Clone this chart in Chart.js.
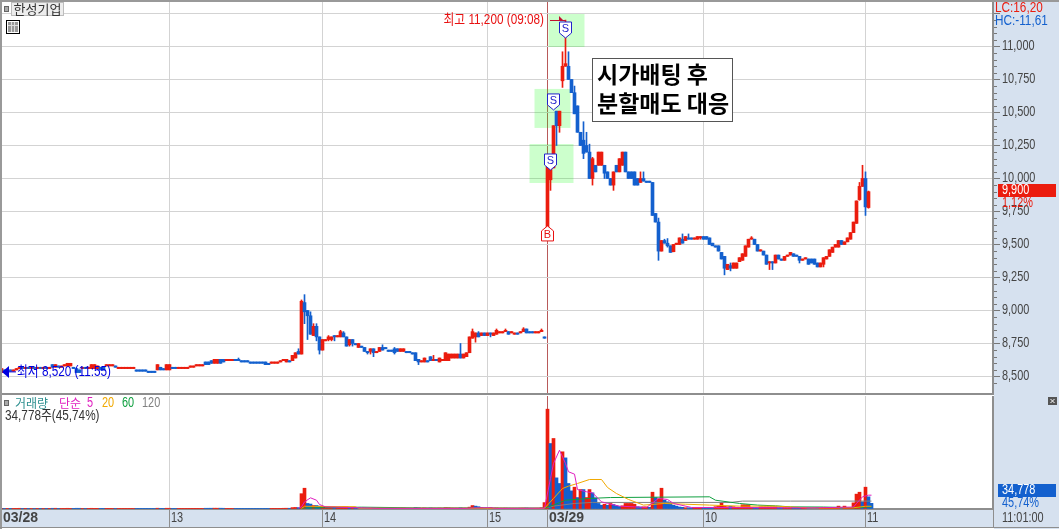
<!DOCTYPE html>
<html lang="ko">
<head>
    <meta charset="UTF-8">
    <title>한성기업</title>
    <script src="https://cdn.jsdelivr.net/npm/chart.js"></script>
    <style>
        html, body { margin: 0; padding: 0; background: #fff; overflow: hidden; }
        canvas { position: absolute; left: 0; display: block; }
        #priceChart { top: 0; }
        #volumeChart { top: 396px; }
    </style>
</head>
<body>
    <canvas id="priceChart" width="1059" height="396"></canvas>
    <canvas id="volumeChart" width="1059" height="133"></canvas>
    <script>
        // One minute candles
        const opens = [
            8530,8550,8540,8550,8540,8550,8560,8570,8560,8570,
            8560,8570,8560,8570,8560,8570,8560,8590,8570,8580,
            8570,8580,8580,8580,8570,8560,8550,8560,8570,8560,
            8560,8560,8560,8570,8570,8580,8580,8580,8580,8560,
            8560,8560,8560,8560,8560,8550,8550,8550,8550,8540,
            8540,8540,8550,8570,8560,8550,8550,8570,8570,8560,
            8560,8560,8560,8570,8570,8580,8580,8580,8610,8610,
            8620,8600,8600,8630,8630,8620,8620,8620,8630,8630,
            8620,8620,8620,8610,8610,8610,8610,8610,8610,8600,
            8600,8600,8600,8610,8620,8610,8620,8620,8640,8690,
            8670,9060,9000,8960,8810,8880,8800,8700,8770,8780,
            8780,8810,8800,8800,8830,8800,8740,8780,8750,8720,
            8730,8720,8690,8690,8710,8680,8690,8720,8720,8700,
            8700,8710,8710,8690,8690,8690,8690,8680,8680,8630,
            8610,8610,8620,8650,8620,8630,8610,8620,8620,8620,
            8640,8640,8640,8670,8640,8650,8680,8790,8800,8830,
            8810,8830,8810,8830,8810,8820,8830,8830,8840,8840,
            8830,8820,8830,8830,8840,8860,8840,8840,8830,8830,
            8840,8800,9630,9990,10080,10510,10400,10740,10850,10850,
            10750,10650,10550,10350,10290,10250,10200,10000,10100,10100,
            10100,10100,10050,10000,9950,10100,10050,10100,10200,10050,
            10050,10050,10000,9970,10000,9980,9980,9970,9735,9670,
            9450,9530,9510,9490,9445,9500,9500,9540,9530,9550,
            9550,9540,9540,9550,9560,9560,9550,9510,9490,9490,
            9440,9410,9310,9340,9320,9320,9370,9380,9410,9480,
            9540,9540,9500,9450,9450,9420,9360,9370,9360,9420,
            9390,9380,9410,9420,9430,9420,9410,9380,9390,9390,
            9390,9390,9360,9330,9350,9390,9410,9440,9480,9480,
            9530,9500,9520,9540,9590,9660,9840,9940,10000,9780
        ];
        const closes = [
            8560,8540,8550,8540,8550,8560,8570,8560,8570,8560,
            8570,8560,8570,8560,8570,8560,8570,8570,8590,8570,
            8580,8590,8600,8600,8560,8530,8530,8570,8560,8570,
            8590,8590,8580,8550,8550,8590,8590,8590,8570,8570,
            8570,8570,8570,8570,8570,8540,8540,8540,8540,8530,
            8530,8530,8590,8550,8550,8590,8590,8560,8560,8570,
            8570,8570,8570,8580,8580,8590,8590,8590,8590,8590,
            8600,8630,8630,8600,8610,8630,8630,8630,8620,8620,
            8610,8610,8610,8600,8600,8600,8600,8600,8590,8590,
            8610,8610,8610,8620,8630,8630,8610,8660,8680,8670,
            9070,8990,8960,8820,8880,8800,8700,8780,8780,8800,
            8800,8800,8810,8840,8800,8730,8780,8750,8740,8750,
            8720,8690,8680,8710,8680,8690,8720,8700,8710,8690,
            8690,8680,8690,8710,8710,8680,8680,8670,8620,8610,
            8620,8640,8610,8620,8630,8620,8640,8630,8680,8670,
            8670,8670,8670,8640,8670,8680,8800,8840,8830,8800,
            8830,8810,8830,8820,8830,8850,8840,8840,8850,8820,
            8840,8830,8820,8840,8860,8830,8830,8830,8840,8840,
            8850,8790,10090,10070,10400,10400,10510,10850,10870,10750,
            10650,10490,10350,10250,10190,10200,10000,10150,10050,10200,
            10200,10040,10000,9950,10050,10050,10150,10200,10050,10000,
            10000,9950,9950,10000,9980,9970,9970,9720,9670,9450,
            9530,9510,9490,9440,9500,9510,9550,9510,9560,9540,
            9540,9550,9560,9560,9540,9540,9500,9490,9480,9450,
            9390,9320,9350,9320,9360,9360,9400,9430,9490,9540,
            9550,9500,9450,9460,9420,9350,9370,9360,9420,9390,
            9380,9410,9420,9440,9410,9410,9380,9390,9400,9350,
            9360,9350,9330,9360,9400,9410,9460,9480,9500,9530,
            9500,9520,9550,9590,9670,9830,9940,10000,9785,9900
        ];
        const highs = [
            8560,8550,8550,8550,8550,8560,8570,8570,8570,8570,
            8570,8570,8570,8570,8570,8570,8570,8590,8590,8580,
            8580,8590,8600,8600,8570,8560,8550,8570,8570,8570,
            8590,8590,8580,8570,8570,8590,8590,8590,8580,8570,
            8570,8570,8570,8570,8570,8550,8550,8550,8550,8540,
            8540,8540,8590,8570,8560,8590,8590,8570,8570,8570,
            8570,8570,8570,8580,8580,8590,8590,8590,8610,8610,
            8620,8630,8630,8630,8630,8630,8630,8630,8630,8640,
            8620,8620,8620,8610,8610,8610,8610,8610,8610,8600,
            8610,8610,8610,8620,8630,8630,8620,8660,8680,8710,
            9080,9120,9000,8990,8900,8900,8800,8780,8780,8810,
            8800,8810,8810,8850,8840,8800,8780,8780,8750,8750,
            8730,8720,8690,8710,8710,8690,8720,8740,8720,8700,
            8700,8720,8710,8710,8710,8690,8690,8680,8680,8630,
            8620,8640,8620,8650,8660,8630,8640,8630,8680,8670,
            8670,8670,8670,8750,8670,8680,8800,8860,8830,8840,
            8830,8830,8830,8830,8830,8860,8840,8840,8860,8840,
            8840,8830,8830,8840,8870,8860,8840,8840,8840,8840,
            8860,8800,10150,10100,10400,10510,10510,10960,11200,10960,
            10750,10700,10550,10350,10430,10350,10260,10160,10100,10200,
            10200,10100,10050,10000,10050,10100,10150,10200,10200,10050,
            10050,10050,10000,10050,10050,9980,9980,9970,9735,9700,
            9530,9540,9545,9490,9500,9510,9550,9580,9560,9580,
            9550,9550,9560,9560,9560,9560,9550,9510,9490,9490,
            9440,9410,9350,9360,9360,9360,9400,9430,9490,9540,
            9560,9540,9500,9460,9450,9420,9370,9370,9420,9420,
            9390,9410,9420,9440,9430,9420,9410,9390,9400,9390,
            9390,9390,9360,9360,9400,9410,9460,9480,9500,9530,
            9530,9520,9550,9590,9670,9830,9970,10100,10050,9905
        ];
        const lows = [
            8530,8540,8540,8540,8540,8550,8560,8560,8560,8560,
            8560,8560,8560,8560,8560,8560,8560,8570,8570,8570,
            8570,8580,8580,8580,8560,8530,8530,8560,8560,8560,
            8560,8560,8560,8550,8550,8580,8580,8580,8570,8560,
            8560,8560,8560,8560,8560,8540,8540,8540,8540,8530,
            8530,8530,8550,8550,8550,8550,8550,8560,8560,8560,
            8560,8560,8560,8570,8570,8580,8580,8580,8590,8590,
            8600,8600,8600,8600,8610,8620,8620,8620,8620,8620,
            8610,8610,8610,8600,8600,8600,8600,8600,8590,8590,
            8600,8600,8600,8610,8620,8610,8610,8620,8640,8670,
            8670,8900,8780,8820,8810,8770,8670,8700,8770,8770,
            8770,8770,8800,8800,8800,8730,8730,8730,8740,8720,
            8720,8690,8670,8670,8650,8680,8690,8700,8710,8690,
            8690,8670,8690,8690,8690,8680,8680,8670,8620,8590,
            8610,8610,8610,8620,8620,8620,8610,8620,8620,8620,
            8640,8640,8640,8640,8640,8650,8680,8790,8760,8800,
            8810,8810,8810,8800,8810,8820,8830,8830,8840,8820,
            8830,8820,8820,8830,8840,8830,8830,8830,8830,8830,
            8840,8790,9630,9910,10080,10250,10350,10690,10850,10750,
            10650,10490,10350,10250,10150,10200,10000,9950,10050,10100,
            10100,10000,10000,9950,9910,10050,10050,10100,10050,10000,
            10000,9950,9950,9970,9980,9970,9970,9720,9670,9380,
            9450,9510,9480,9440,9445,9500,9500,9510,9530,9540,
            9540,9540,9540,9540,9540,9540,9500,9490,9480,9450,
            9390,9270,9310,9300,9320,9320,9370,9380,9410,9480,
            9540,9500,9450,9450,9420,9350,9310,9310,9360,9390,
            9380,9380,9410,9420,9410,9410,9360,9380,9390,9350,
            9360,9350,9330,9330,9330,9390,9410,9440,9480,9480,
            9500,9500,9520,9540,9590,9660,9835,9940,9720,9775
        ];
        const volumes = [
            1000,800,900,1000,900,1200,1400,900,1100,800,
            700,900,800,900,700,1000,800,1500,1600,900,
            800,900,1400,1300,1000,1600,1500,800,900,800,
            1400,1300,1000,900,1100,1200,1000,1000,800,700,
            700,800,700,800,700,900,800,800,900,800,
            700,700,1800,1000,900,1700,1600,800,900,700,
            800,700,800,900,1000,1000,900,1100,1600,1700,
            1800,2000,1800,1900,1500,900,800,900,1000,1200,
            900,800,900,800,700,800,700,800,1200,900,
            1000,1100,900,1200,1500,1800,1500,6000,7000,6000,
            100000,137000,34000,30000,20000,20000,16000,12000,8000,7000,
            6000,5000,5000,9000,11000,11000,7000,5000,5000,4000,
            4000,4000,3000,3000,4000,3000,4000,3000,2500,2500,
            2500,3000,2500,2500,3000,2000,2000,1500,7000,5000,
            3000,3500,2000,4000,2500,2000,3000,2000,6000,5000,
            3000,2500,2500,5000,3000,3000,9000,20000,16000,12000,
            8000,5000,4000,7000,3000,4000,2500,2500,3000,2500,
            2000,2000,2000,2500,3000,3500,2000,2000,2000,2000,
            5000,40000,671000,439000,473000,207000,169000,383000,342000,169000,
            119000,144000,74000,128000,128000,74000,128000,106000,72000,34000,
            22000,29000,22000,34000,27000,18000,14000,18000,34000,34000,
            34000,29000,12000,10000,11000,11000,8000,110000,74000,65000,
            137000,56000,45000,34000,22000,16000,10000,8000,5000,5000,
            4000,4000,5000,4000,4000,5000,6000,5000,12000,14000,
            38000,14000,12000,14000,12000,8000,7000,25000,25000,25000,
            6000,5000,5000,11000,11000,11000,11000,11000,11000,6000,
            5000,5000,4000,4000,4000,5000,4000,3000,4000,5000,
            4000,4000,5000,4000,5000,4000,5000,5000,4000,16000,
            5000,16000,6000,7000,38000,97000,110000,45000,144000,79000,
            34778
        ];
        // 1 = red bar, 0 = blue bar
        const volumeUp = [
            1,0,1,0,1,1,1,0,1,0, 1,0,1,0,1,0,1,0,1,0, 1,1,1,1,0,0,0,1,0,1,
            1,1,1,0,0,1,1,1,0,1, 1,1,1,1,1,0,0,0,0,0, 0,0,1,0,0,1,1,0,0,1,
            1,1,1,1,1,1,1,1,0,0, 0,1,1,0,0,1,1,1,0,0, 0,0,0,0,0,0,0,0,0,0,
            1,1,1,1,1,1,0,1,1,0, 1,1,0,0,1,0,0,1,1,1, 1,0,1,1,1,1,0,1,0,0,
            0,0,0,1,0,1,1,0,0,0, 0,0,0,1,1,0,0,0,0,0, 1,1,0,0,1,0,1,1,1,1,
            1,1,1,0,1,1,1,1,0,0, 1,0,1,1,1,1,1,1,1,0, 1,1,0,1,1,0,0,0,1,1,
            1,1,1,0,1,0,0,1,0,0, 0,1,0,1,0,1,1,0,0,0, 0,1,0,1,0,0,0,1,1,1,
            1,1,0,0,1,1,0,1,0,1, 1,0,0,0,0,0,0,0,1,0, 0,1,1,1,0,0,0,0,1,1,
            1,1,1,0,1,1,1,1,1,1, 1,0,0,1,1,1,1,1,1,0, 0,1,1,1,0,0,0,1,1,0,
            0,0,0,1,1,1,1,1,1,1, 0,1,1,1,1,1,1,0,1,0, 0
        ];

        // Moving averages of volume: slot numbers and the values read at them
        const ma5Slots = [99,100,101,103,105,106,108,126,155,157,163,165,181,183,184,186,188,189,191,192,195,197,200,202,206,211,215,219,222,224,230,238,270,284,285,287,289,290];
        const ma5Values = [3000,11000,45000,72000,56000,27000,11000,1000,1000,4000,5000,1000,2000,203000,304000,394000,304000,248000,232000,128000,113000,106000,45000,34000,16000,11000,7000,68000,61000,34000,7000,7000,4000,10000,34000,79000,90000,90000];
        const ma20Slots = [100,101,118,119,181,184,187,189,192,196,200,202,205,209,214,221,228,236,246,258,270,284,288,290];
        const ma20Values = [1000,15000,12000,1500,1500,68000,135000,151000,169000,196000,196000,142000,101000,61000,23000,34000,29000,23000,16000,16000,3000,5000,15000,15000];
        const ma60Slots = [100,120,140,181,184,188,196,203,236,238,246,252,258,263,274,285,290];
        const ma60Values = [3000,9000,4000,3000,23000,56000,68000,74000,79000,56000,34000,23000,18000,11000,10000,5000,12000];
        const ma120Slots = [181,184,191,197,243,247,263,285,290];
        const ma120Values = [3000,16000,34000,41000,41000,50000,50000,50000,50000];

        // X axis marks: slot number and label
        const dateSlots = [0,56,107,162,182,234,288];
        const dateLabels = ['03/28','13','14','15','03/29','10','11'];
        const slotCount = 331;

        // Signals on the price chart
        const sellSlots = [188,184,183];
        const sellPrices = [11125,10580,10125];
        const buySlot = 182;
        const buyPrice = 9580;
        const highText = '최고 11,200 (09:08)';
        const lowText = '최저 8,520 (11:55)';
        const highSlot = 188, highPrice = 11200;
        const lowPrice = 8535;
        const lastPriceText = '9,900', lastPricePct = '1,12%';
        const lastVolumeText = '34,778', lastVolumePct = '45,74%';

        const RED = '#EB1C0E', BLUE = '#1360CE', STRIP = '#D6E1EF', GRID = '#D3D3D3', LINE = '#8E8E8E';
        const LABEL = '14px "Liberation Sans","Noto Sans CJK KR",sans-serif';
        const CJK = '"Noto Sans CJK KR",sans-serif';

        const slotNames = Array.from({ length: slotCount }, (_, i) => {
            const k = dateSlots.indexOf(i);
            return k >= 0 ? dateLabels[k] : '';
        });
        const sparse = (slots, values) => {
            const out = new Array(slotCount).fill(null);
            slots.forEach((s, k) => { out[s] = values[k]; });
            return out;
        };
        const candleColor = i => (closes[i] >= opens[i] ? RED : BLUE);
        const fmt = v => v.toLocaleString('en-US');
        // no extra room for the labels around the plot
        const fixed = (width, height) => s => {
            if (width !== null) s.width = width;
            if (height !== null) s.height = height;
            s.paddingTop = s.paddingBottom = s.paddingLeft = s.paddingRight = 0;
        };

        // sx squeezes the glyphs sideways, the terminal font is a narrow one
        function text(ctx, str, x, y, color, font, align, sx) {
            ctx.save();
            ctx.translate(x, y);
            ctx.scale(sx || 1, 1);
            ctx.fillStyle = color;
            ctx.font = font;
            ctx.textAlign = align || 'left';
            ctx.textBaseline = 'middle';
            ctx.fillText(str, 0, 0);
            ctx.restore();
        }
        const narrow = (ctx, str, x, y, color, align) => text(ctx, str, x, y, color, LABEL, align, 0.78);
        const mixed = (ctx, str, x, y, color, align) => text(ctx, str, x, y, color, LABEL, align, 0.84);

        // shared x axis grid: red line at the day change, grey otherwise
        function gridColor(c) {
            if (!slotNames[c.index]) return 'rgba(0,0,0,0)';
            return c.index === 182 ? '#B85A5A' : GRID;
        }

        function sideAxis(scale, ctx, minorStep, majorStep) {
            ctx.strokeStyle = '#777';
            ctx.lineWidth = 1;
            scale.ticks.forEach(t => {
                if (t.value % minorStep !== 0) return;
                const y = Math.round(scale.getPixelForValue(t.value)) + 0.5;
                ctx.beginPath();
                ctx.moveTo(994, y);
                ctx.lineTo(t.value % majorStep === 0 ? 1000 : 997, y);
                ctx.stroke();
                if (t.label) narrow(ctx, t.label, 1002, y, '#444');
            });
        }

        function signalMark(ctx, cx, cy, up, letter, color) {
            const w = 6, h = 8;
            ctx.beginPath();
            if (up) {
                ctx.moveTo(cx, cy - h);
                ctx.lineTo(cx + w, cy - h + 5);
                ctx.lineTo(cx + w, cy + h - 1);
                ctx.lineTo(cx - w, cy + h - 1);
                ctx.lineTo(cx - w, cy - h + 5);
            } else {
                ctx.moveTo(cx - w, cy - h);
                ctx.lineTo(cx + w, cy - h);
                ctx.lineTo(cx + w, cy + h - 5);
                ctx.lineTo(cx, cy + h);
                ctx.lineTo(cx - w, cy + h - 5);
            }
            ctx.closePath();
            ctx.fillStyle = '#fff';
            ctx.fill();
            ctx.strokeStyle = color;
            ctx.lineWidth = 1;
            ctx.stroke();
            text(ctx, letter, cx, cy + (up ? 1 : -1), color, '11px "Liberation Sans"', 'center');
        }

        const priceOverlay = {
            id: 'priceOverlay',
            beforeDraw(chart) {
                const ctx = chart.ctx;
                ctx.fillStyle = STRIP;
                ctx.fillRect(994, 0, 65, 396);
            },
            beforeDatasetsDraw(chart) {
                const ctx = chart.ctx, x = chart.scales.x, y = chart.scales.y;
                // green boxes around the sell signals
                const boxes = [[-17, -16, 36, 33], [-19, -13, 36, 39], [-21, -18, 44, 39]];
                ctx.fillStyle = 'rgba(0,255,0,0.2)';
                sellSlots.forEach((s, k) => {
                    const b = boxes[k];
                    ctx.fillRect(x.getPixelForValue(s) + b[0], y.getPixelForValue(sellPrices[k]) + b[1], b[2], b[3]);
                });
            },
            afterDraw(chart) {
                const ctx = chart.ctx, x = chart.scales.x, y = chart.scales.y;
                sideAxis(y, ctx, 50, 250);

                // frame
                ctx.fillStyle = '#999';
                ctx.fillRect(0, 0, 1059, 2);
                ctx.fillRect(0, 0, 2, 396);

                // title tab
                ctx.fillStyle = '#AAA';
                ctx.fillRect(4, 6, 5, 6);
                ctx.strokeStyle = '#666';
                ctx.strokeRect(4.5, 6.5, 4, 5);
                ctx.fillStyle = '#EDEDED';
                ctx.fillRect(11, 2, 53, 14);
                ctx.strokeStyle = '#BDBDBD';
                ctx.strokeRect(11.5, 2.5, 52, 13);
                text(ctx, '한성기업', 37.5, 9.5, '#333', '13px ' + CJK, 'center');

                // table icon
                ctx.fillStyle = '#999';
                ctx.fillRect(8, 22, 10, 10);
                ctx.strokeStyle = '#000';
                ctx.strokeRect(6.5, 20.5, 13, 13);
                ctx.strokeStyle = '#DDD';
                [11.5, 14.5].forEach(v => {
                    ctx.beginPath();
                    ctx.moveTo(v, 22);
                    ctx.lineTo(v, 32);
                    ctx.stroke();
                });
                ctx.beginPath();
                ctx.moveTo(8, 25.5);
                ctx.lineTo(18, 25.5);
                ctx.stroke();

                // signals
                const sellColor = '#2222CC';
                sellSlots.forEach((s, k) => {
                    signalMark(ctx, x.getPixelForValue(s), y.getPixelForValue(sellPrices[k]), false, 'S', sellColor);
                });
                signalMark(ctx, x.getPixelForValue(buySlot), y.getPixelForValue(buyPrice), true, 'B', '#E81010');

                // highest price label
                const hy = y.getPixelForValue(highPrice);
                mixed(ctx, highText, 544, hy, '#E81010', 'right');
                ctx.strokeStyle = '#C01030';
                ctx.beginPath();
                ctx.moveTo(550, Math.round(hy) + 0.5);
                ctx.lineTo(x.getPixelForValue(highSlot), Math.round(hy) + 0.5);
                ctx.stroke();
                ctx.fillStyle = '#C01030';
                ctx.beginPath();
                ctx.moveTo(559, hy - 4);
                ctx.lineTo(564, hy + 1);
                ctx.lineTo(559, hy + 1);
                ctx.closePath();
                ctx.fill();

                // lowest price label
                const ly = y.getPixelForValue(lowPrice);
                ctx.fillStyle = '#0000E0';
                ctx.beginPath();
                ctx.moveTo(2, ly);
                ctx.lineTo(9, ly - 6);
                ctx.lineTo(9, ly + 6);
                ctx.closePath();
                ctx.fill();
                ctx.fillRect(8, ly - 0.5, 8, 1);
                mixed(ctx, lowText, 17, ly, '#0000E0');

                // note box
                ctx.fillStyle = '#fff';
                ctx.fillRect(592, 58, 140, 63);
                ctx.strokeStyle = '#555';
                ctx.strokeRect(592.5, 58.5, 140, 63);
                text(ctx, '시가배팅 후', 597, 74, '#000', 'bold 23px ' + CJK);
                text(ctx, '분할매도 대응', 597, 103, '#000', 'bold 23px ' + CJK);

                // right strip labels
                mixed(ctx, 'LC:16,20', 995, 8, RED);
                mixed(ctx, 'HC:-11,61', 995, 21, BLUE);
                ctx.fillStyle = RED;
                ctx.fillRect(998, 184, 58, 13);
                narrow(ctx, lastPriceText, 1002, 190.5, '#fff');
                narrow(ctx, lastPricePct, 1002, 203, RED);
            }
        };

        const volumeOverlay = {
            id: 'volumeOverlay',
            beforeDraw(chart) {
                const ctx = chart.ctx;
                ctx.fillStyle = STRIP;
                ctx.fillRect(994, 0, 65, 133);
                ctx.fillRect(0, 114, 1059, 17);
            },
            afterDraw(chart) {
                const ctx = chart.ctx, x = chart.scales.x, y = chart.scales.y;
                sideAxis(y, ctx, 50000, 250000);

                ctx.fillStyle = '#999';
                ctx.fillRect(0, 0, 2, 133);

                // frame of the date strip, with the day marks running through it
                ctx.fillStyle = LINE;
                ctx.fillRect(0, 131, 1059, 1);
                ctx.fillRect(993, 113, 1, 18);
                x.ticks.forEach((t, i) => {
                    if (!t.label) return;
                    const px = Math.floor(x.getPixelForValue(i));
                    if (i > 0) ctx.fillRect(px, 113, 1, 18);
                    if (t.label.includes('/')) {
                        text(ctx, t.label, Math.max(px + 2, 3), 122.5, '#444', 'bold 14px "Liberation Sans"');
                    } else {
                        narrow(ctx, t.label, px + 2, 122.5, '#444');
                    }
                });

                // legend
                ctx.fillStyle = '#AAA';
                ctx.fillRect(4, 4, 5, 6);
                ctx.strokeStyle = '#666';
                ctx.strokeRect(4.5, 4.5, 4, 5);
                text(ctx, '거래량', 15, 7.5, '#2E9090', '12px ' + CJK);
                text(ctx, '단순', 59, 7.5, '#E020C0', '12px ' + CJK);
                narrow(ctx, '5', 87, 7.5, '#E020C0');
                narrow(ctx, '20', 102, 7.5, '#F0A800');
                narrow(ctx, '60', 122, 7.5, '#10A040');
                narrow(ctx, '120', 142, 7.5, '#808080');
                mixed(ctx, lastVolumeText + '주(' + lastVolumePct + ')', 5, 20.5, '#333');

                // close button
                ctx.fillStyle = '#555';
                ctx.fillRect(1048, 1, 9, 8);
                ctx.strokeStyle = '#fff';
                ctx.beginPath();
                ctx.moveTo(1050.5, 3);
                ctx.lineTo(1054.5, 7);
                ctx.moveTo(1054.5, 3);
                ctx.lineTo(1050.5, 7);
                ctx.stroke();

                // last volume badge
                ctx.fillStyle = BLUE;
                ctx.fillRect(998, 88, 58, 13);
                narrow(ctx, lastVolumeText, 1002, 94.5, '#fff');
                narrow(ctx, lastVolumePct, 1002, 107, BLUE);

                narrow(ctx, '11:01:00', 1002, 122.5, '#444');
            }
        };

        const baseOptions = {
            responsive: false,
            animation: false,
            events: [],
            plugins: { legend: { display: false }, tooltip: { enabled: false } }
        };

        new Chart(document.getElementById('priceChart').getContext('2d'), {
            type: 'bar',
            data: {
                labels: slotNames,
                datasets: [
                    {
                        data: opens.map((o, i) => [o, closes[i]]),
                        backgroundColor: opens.map((_, i) => candleColor(i)),
                        barThickness: 3,
                        minBarLength: 1,
                        grouped: false
                    },
                    {
                        data: lows.map((l, i) => [l, highs[i]]),
                        backgroundColor: lows.map((_, i) => candleColor(i)),
                        barThickness: 1,
                        minBarLength: 1,
                        grouped: false
                    }
                ]
            },
            options: {
                ...baseOptions,
                layout: { padding: { top: 2, bottom: 2 } },
                scales: {
                    x: {
                        afterFit: fixed(null, 0),
                        ticks: { display: false, autoSkip: false },
                        grid: { offset: false, drawTicks: false, color: gridColor },
                        border: { display: true, color: LINE, width: 2 }
                    },
                    y: {
                        position: 'right',
                        min: 8367.4,
                        max: 11337,
                        afterFit: fixed(66, null),
                        grid: {
                            drawTicks: false,
                            color: c => (c.tick.value % 250 === 0 ? GRID : 'rgba(0,0,0,0)')
                        },
                        border: { color: LINE, width: 2 },
                        ticks: {
                            display: false,
                            stepSize: 50,
                            autoSkip: false,
                            callback: v => (v % 250 === 0 && v !== 11250 ? fmt(v) : '')
                        }
                    }
                }
            },
            plugins: [priceOverlay]
        });

        const maLine = (slots, values, color) => ({
            type: 'line',
            data: sparse(slots, values),
            borderColor: color,
            borderWidth: 1,
            pointRadius: 0,
            spanGaps: true,
            tension: 0
        });

        new Chart(document.getElementById('volumeChart').getContext('2d'), {
            type: 'bar',
            data: {
                labels: slotNames,
                datasets: [
                    maLine(ma5Slots, ma5Values, '#E020C0'),
                    maLine(ma20Slots, ma20Values, '#F0A800'),
                    maLine(ma60Slots, ma60Values, '#10A040'),
                    maLine(ma120Slots, ma120Values, '#808080'),
                    {
                        data: volumes,
                        backgroundColor: volumes.map((_, i) => (volumeUp[i] ? RED : BLUE)),
                        barThickness: 3,
                        grouped: false
                    }
                ]
            },
            options: {
                ...baseOptions,
                layout: { padding: { top: 0, bottom: 2 } },
                scales: {
                    x: {
                        afterFit: fixed(null, 18),
                        grid: { offset: false, drawTicks: false, color: gridColor },
                        border: { display: true, color: LINE, width: 2 },
                        ticks: {
                            display: false,
                            autoSkip: false,
                            callback: (v, i) => slotNames[i]
                        }
                    },
                    y: {
                        position: 'right',
                        min: -3400,
                        max: 760000,
                        afterFit: fixed(66, null),
                        grid: {
                            drawTicks: false,
                            color: c => (c.tick.value % 250000 === 0 && c.tick.value > 0 ? GRID : 'rgba(0,0,0,0)')
                        },
                        border: { color: LINE, width: 2 },
                        ticks: {
                            display: false,
                            stepSize: 50000,
                            autoSkip: false,
                            callback: v => (v % 250000 === 0 && v > 0 ? fmt(v) : '')
                        }
                    }
                }
            },
            plugins: [volumeOverlay]
        });
    </script>
</body>
</html>
